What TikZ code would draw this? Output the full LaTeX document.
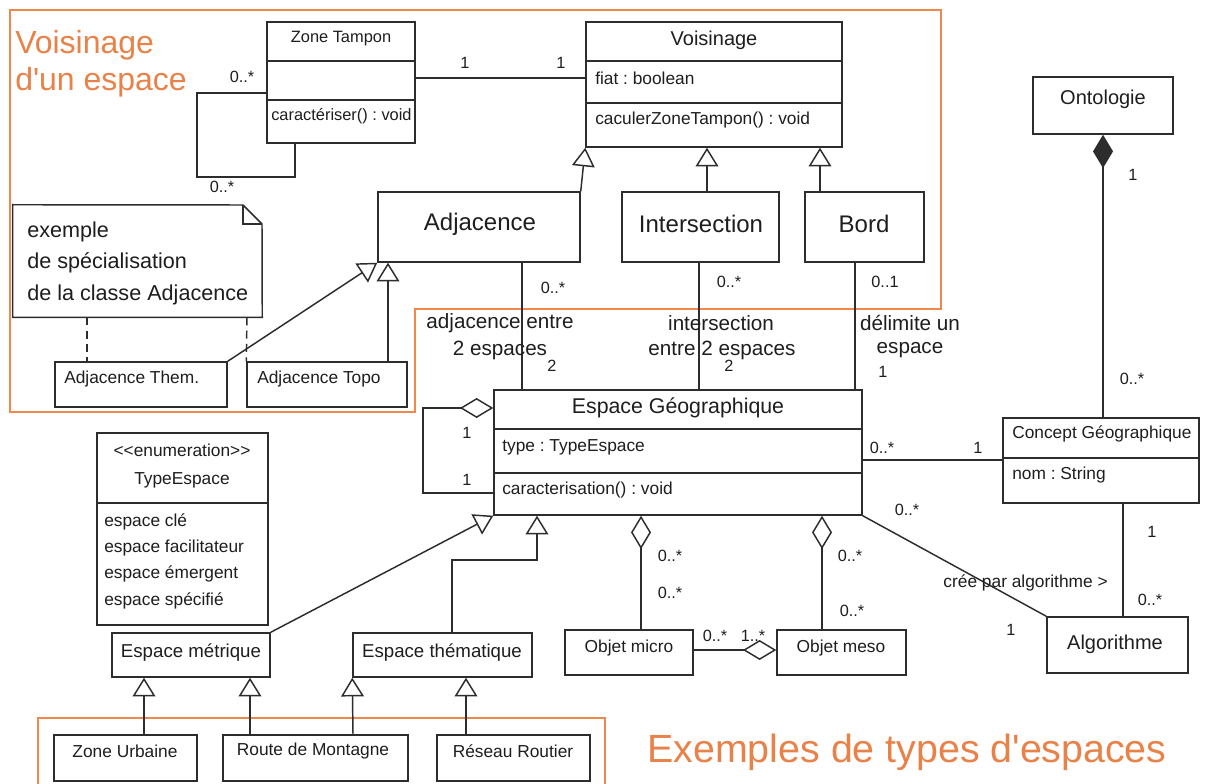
\documentclass[tikz,border=0pt]{standalone}
\usepackage{fontspec}
\setmainfont{Liberation Sans}[Ligatures=TeXOff]
\usetikzlibrary{arrows.meta,fit}
\definecolor{orng}{RGB}{240,135,75}
\definecolor{orngtxt}{RGB}{232,130,72}
\definecolor{ln}{RGB}{45,45,45}
\definecolor{tx}{RGB}{30,30,30}
\frenchspacing
\begin{document}
\begin{tikzpicture}[x=0.75pt,y=-0.75pt,
  box/.style={draw=ln, line width=1.1pt, inner sep=0pt},
  frame/.style={draw=orng, line width=1.4pt},
  uml/.style={draw=ln, line width=1.1pt},
  gen/.style={uml, -{Triangle[open,length=14pt,width=17pt]}},
  agg/.style={uml, -{Diamond[open,length=25pt,width=15pt]}},
  comp/.style={uml, -{Diamond[length=25pt,width=15pt]}},
  t/.style={inner sep=0pt, text=tx},
  big/.style={t, text=orngtxt, font=\fontsize{24}{26}\selectfont},
  huge/.style={t, text=orngtxt, font=\fontsize{29.5}{32}\selectfont},
  cls/.style={t, font=\fontsize{18}{20}\selectfont},
  cname/.style={t, font=\fontsize{15}{17}\selectfont},
  attr/.style={t, font=\fontsize{13}{15}\selectfont},
  small/.style={t, font=\fontsize{12.3}{14}\selectfont},
  alab/.style={t, font=\fontsize{15.5}{17}\selectfont},
  notet/.style={t, font=\fontsize{16.2}{18}\selectfont},
  mult/.style={t, font=\fontsize{12.2}{14}\selectfont}]
\useasboundingbox[fill=white] (0,0) rectangle (1206,784);

% orange frames
\draw[frame] (10,10) -- (941,10) -- (941,309) -- (415,309) -- (415,412) -- (10,412) -- cycle;
\draw[frame] (38,785) -- (38,718) -- (605,718) -- (605,785);
\node[big, anchor=west] (tv1) at (15,45) {Voisinage};
\node[big, anchor=west] (tv2) at (15,82) {d'un espace};
\node[huge] (tex) at (907,752) {Exemples de types d'espaces};

% Zone Tampon
\node[box, fit={(267,22) (415,143)}] (zt) {};
\draw[uml] (267,61) -- (415,61) (267,100) -- (415,100);
\node[small] (ztn) at (341,39) {Zone Tampon};
\node[small, anchor=west] (zto) at (271,116) {caractériser() : void};
\draw[uml] (zt.west |- 0,93) -- (197,93) -- (197,177) -- (295,177) -- (zt.south -| 295,0);
\node[mult] (m1) at (242,77) {0..*};
\node[mult] (m2) at (222,187) {0..*};

% Voisinage
\node[box, fit={(586,22) (842,147)}] (vo) {};
\draw[uml] (586,61) -- (842,61) (586,103) -- (842,103);
\node[cname] (von) at (714,40) {Voisinage};
\node[attr, anchor=west] (voa) at (595,78) {fiat : boolean};
\node[attr, anchor=west] (voo) at (595,120) {caculerZoneTampon() : void};
\draw[uml] (zt.east |- 0,78) -- (vo.west |- 0,78);
\node[mult] (m3) at (465,63) {1};
\node[mult] (m4) at (561,63) {1};

% Adjacence / Intersection / Bord
\node[box, fit={(378,192) (580,262)}] (adj) {};
\node[cls] (adjn) at (480,224) {Adjacence};
\node[box, fit={(622,192) (779,262)}] (int) {};
\node[cls] (intn) at (701,224) {Intersection};
\node[box, fit={(805,192) (924,262)}] (bord) {};
\node[cls] (bordn) at (864,224) {Bord};
\draw[gen] (adj.north east) -- (vo.south west);
\draw[gen] (int.north -| 707,0) -- (vo.south -| 707,0);
\draw[gen] (bord.north -| 820,0) -- (vo.south -| 820,0);

% note
\node[inner sep=0pt, fit={(13,205) (262,317)}] (note) {};
\draw[uml] (note.north west) -- (243,205) -- (262,224) -- (note.south east) -- (note.south west) -- cycle;
\draw[uml] (243,205) -- (243,224) -- (262,224);
\node[notet, anchor=west] (nt1) at (27,232) {exemple};
\node[notet, anchor=west] (nt2) at (27,263) {de spécialisation};
\node[notet, anchor=west] (nt3) at (27,295) {de la classe Adjacence};

\node[box, fit={(55,362) (227,407)}] (athem) {};
\node[attr, anchor=west] (athemn) at (64,379) {Adjacence Them.};
\node[box, fit={(247,362) (407,407)}] (atopo) {};
\node[attr, anchor=west] (atopon) at (257,379) {Adjacence Topo};
\draw[gen] (athem.north east) -- (adj.south west);
\draw[gen] (atopo.north -| 388,0) -- (adj.south -| 388,0);
\draw[uml, dash pattern=on 6pt off 4pt] (note.south -| 87,0) -- (athem.north -| 87,0);
\draw[uml, dash pattern=on 6pt off 4pt] (note.south -| 247,0) -- (atopo.north west);

% Espace Geographique
\node[box, fit={(494,390) (862,515)}] (eg) {};
\draw[uml] (494,429) -- (862,429) (494,473) -- (862,473);
\node[t, font=\fontsize{16}{18}\selectfont] (egn) at (678,408) {Espace Géographique};
\node[attr, anchor=west] (ega) at (502,447) {type : TypeEspace};
\node[attr, anchor=west] (ego) at (502,490) {caracterisation() : void};

\draw[uml] (adj.south -| 522,0) -- (eg.north -| 522,0);
\draw[uml] (int.south -| 699,0) -- (eg.north -| 699,0);
\draw[uml] (bord.south -| 855,0) -- (eg.north -| 855,0);
\node[mult] (m5) at (553,288) {0..*};
\node[alab] (l1) at (500,323) {adjacence entre};
\node[alab] (l2) at (500,350) {2 espaces};
\node[mult] (m6) at (552,366) {2};
\node[mult] (m7) at (729,282) {0..*};
\node[alab] (l3) at (721,323) {intersection};
\node[alab] (l4) at (722,350) {entre 2 espaces};
\node[mult] (m8) at (729,366) {2};
\node[mult] (m9) at (885,282) {0..1};
\node[alab] (l5) at (910,323) {délimite un};
\node[alab] (l6) at (910,350) {espace};
\node[mult] (m10) at (883,372) {1};

\draw[agg] (eg.west |- 0,493) -- (423,493) -- (423,408) -- (eg.west |- 0,408);
\node[mult] (m11) at (467,433) {1};
\node[mult] (m12) at (467,480) {1};

% TypeEspace
\node[box, fit={(97,433) (268,625)}] (te) {};
\draw[uml] (97,503) -- (268,503);
\node[attr] (te1) at (182,450) {<<enumeration>>};
\node[attr] (te2) at (182,480) {TypeEspace};
\node[attr, anchor=west] (te3) at (104,522) {espace clé};
\node[attr, anchor=west] (te4) at (104,548) {espace facilitateur};
\node[attr, anchor=west] (te5) at (104,574) {espace émergent};
\node[attr, anchor=west] (te6) at (104,601) {espace spécifié};

% Espace metrique / thematique
\node[box, fit={(112,633) (270,677)}] (em) {};
\node[t, font=\fontsize{14}{16}\selectfont] (emn) at (191,653) {Espace métrique};
\node[box, fit={(353,633) (532,677)}] (et) {};
\node[t, font=\fontsize{14}{16}\selectfont] (etn) at (442,653) {Espace thématique};
\draw[gen] (em.north east) -- (eg.south west);
\draw[gen] (et.north -| 452,0) -- (452,560) -- (537,560) -- (eg.south -| 537,0);

% bottom examples
\node[box, fit={(54,735) (197,781)}] (zu) {};
\node[attr] (zun) at (125,751) {Zone Urbaine};
\node[box, fit={(223,735) (408,781)}] (rm) {};
\node[attr] (rmn) at (313,751) {Route de Montagne};
\node[box, fit={(437,735) (590,781)}] (rr) {};
\node[attr] (rrn) at (513,751) {Réseau Routier};
\draw[gen] (zu.north -| 144,0) -- (em.south -| 144,0);
\draw[gen] (rm.north -| 250,0) -- (em.south -| 250,0);
\draw[gen] (rm.north -| 353,0) -- (et.south west);
\draw[gen] (rr.north -| 466,0) -- (et.south -| 466,0);

% Objets
\node[box, fit={(565,630) (693,675)}] (omi) {};
\node[attr] (omin) at (629,648) {Objet micro};
\node[box, fit={(777,630) (906,675)}] (ome) {};
\node[attr] (omen) at (841,648) {Objet meso};
\draw[agg] (omi.north -| 641,0) -- (eg.south -| 641,0);
\draw[agg] (ome.north -| 822,0) -- (eg.south -| 822,0);
\draw[agg] (omi.east |- 0,650) -- (ome.west |- 0,650);
\node[mult] (m13) at (670,556) {0..*};
\node[mult] (m14) at (670,593) {0..*};
\node[mult] (m15) at (850,556) {0..*};
\node[mult] (m16) at (852,611) {0..*};
\node[mult] (m17) at (715,636) {0..*};
\node[mult] (m18) at (753,636) {1..*};

% Ontologie / Concept / Algorithme
\node[box, fit={(1033,77) (1173,134)}] (onto) {};
\node[cname] (onton) at (1103,99) {Ontologie};
\node[box, fit={(1003,418) (1199,503)}] (cg) {};
\draw[uml] (1003,458) -- (1199,458);
\node[attr, anchor=west] (cgn) at (1012,434) {Concept Géographique};
\node[attr, anchor=west] (cga) at (1012,475) {nom : String};
\node[box, fit={(1047,617) (1188,673)}] (algo) {};
\node[cname] (algon) at (1115,644) {Algorithme};
\draw[comp] (cg.north -| 1103,0) -- (onto.south -| 1103,0);
\node[mult] (m19) at (1133,175) {1};
\node[mult] (m20) at (1132,379) {0..*};
\draw[uml] (eg.east |- 0,460) -- (cg.west |- 0,460);
\node[mult] (m21) at (882,448) {0..*};
\node[mult] (m22) at (978,448) {1};
\draw[uml] (cg.south -| 1123,0) -- (algo.north -| 1123,0);
\node[mult] (m23) at (1152,532) {1};
\node[mult] (m24) at (1150,600) {0..*};
\draw[uml] (eg.south east) -- (algo.north west);
\node[mult] (m25) at (907,510) {0..*};
\node[mult] (m26) at (1011,630) {1};
\node[attr, anchor=east] (l7) at (1108,583) {crée par algorithme >};
\end{tikzpicture}
\end{document}
